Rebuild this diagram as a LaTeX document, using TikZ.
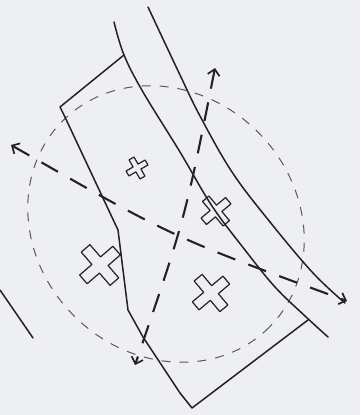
\documentclass[tikz,border=0pt]{standalone}
\usepackage{tikz}
\usepackage{xcolor}
\usetikzlibrary{arrows.meta}
\definecolor{paper}{RGB}{237,239,243}
\definecolor{pencil}{RGB}{34,34,38}
\definecolor{guide}{RGB}{88,88,94}

\begin{document}
\begin{tikzpicture}[
    x=1pt,y=-1pt,
    edge/.style={draw=pencil,line width=1.5pt,line join=round,line cap=round},
    ring/.style={draw=guide,line width=1pt,dash pattern=on 9pt off 9pt},
    route/.style={draw=pencil,line width=2.1pt,dash pattern=on 19pt off 14pt,
      >={Straight Barb[length=6pt,width=12pt,line width=1.7pt]},<->},
    crossline/.style={draw=pencil,line width=1.2pt,line join=round},
    aidcross/.pic={
      \draw[crossline] (1,0.26) -- (0.26,0.26) -- (0.26,1) -- (-0.26,1)
        -- (-0.26,0.26) -- (-1,0.26) -- (-1,-0.26) -- (-0.26,-0.26)
        -- (-0.26,-1) -- (0.26,-1) -- (0.26,-0.26) -- (1,-0.26) -- cycle;
    }
  ]
    \useasboundingbox (0,0) rectangle (360,415);
    \fill[paper] (0,0) rectangle (360,415);

    % dashed circle
    \draw[ring,rotate around={-45:(166,224)}] (166,224) ellipse [x radius=146,y radius=130];

    % the two long lines
    \draw[edge] plot[smooth,tension=0.6] coordinates {(114,22) (124,55) (143,92) (180,152)
      (212,206) (245,250) (275,287) (305,316) (328,337)};
    \draw[edge] plot[smooth,tension=0.6] coordinates {(148,7) (180,75) (200,116) (232,172)
      (270,222) (313,273) (345,303)};

    % plot outline
    \draw[edge] (124,55) -- (60,107) -- (64,115) -- (118,230) -- (128,310)
      -- (143,337) -- (180,393) -- (192,408) -- (308,320);

    % stray line
    \draw[edge] (0,290) -- (33,338);

    % crosses
    \pic[scale=11,rotate=30] at (137,168) {aidcross};
    \pic[scale=16,rotate=40] at (216,211) {aidcross};
    \pic[scale=22,rotate=41] at (100,265) {aidcross};
    \pic[scale=20,rotate=40] at (211,293) {aidcross};

    % arrows
    \coordinate (westend) at (11,145);
    \coordinate (eastend) at (347,301);
    \coordinate (northend) at (215,68);
    \coordinate (southend) at (135,365);
    \draw[route] (westend) .. controls (172,237) .. (eastend);
    \draw[route] (northend) .. controls (185,219) .. (southend);
  \end{tikzpicture}
\end{document}
